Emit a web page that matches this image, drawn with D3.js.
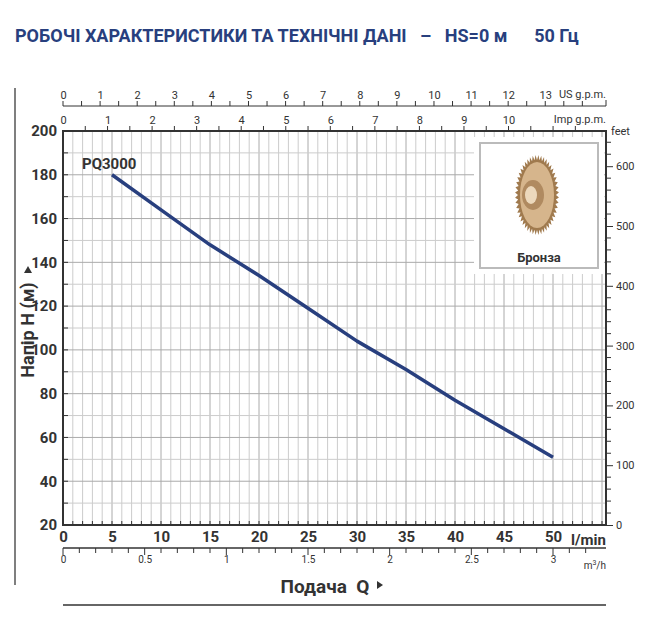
<!DOCTYPE html>
<html><head><meta charset="utf-8">
<script src="https://cdn.jsdelivr.net/npm/d3@7"></script>
<style>body{margin:0;background:#fff}text{font-family:"Liberation Sans Narrow","Roboto",sans-serif;white-space:pre}</style>
</head><body><svg id="c" width="646" height="631"></svg>
<script>
const flowLmin=[5,10,15,20,25,30,35,40,45,50];
const headM=[180,164,148,134,119,104,91,77,64,51];
const lminTicks=[0,5,10,15,20,25,30,35,40,45,50];
const headTicks=[20,40,60,80,100,120,140,160,180,200];
const feetTicks=[0,100,200,300,400,500,600];
const usTicks=[0,1,2,3,4,5,6,7,8,9,10,11,12,13];
const impTicks=[0,1,2,3,4,5,6,7,8,9,10];
const m3hTicks=[0,0.5,1,1.5,2,2.5,3];

const svg=d3.select("#c");
const L=63,R=606,T=131,B=525;
const x=d3.scaleLinear().domain([0,50]).range([L,553]);
const xMax=x.invert(R);
const y=d3.scaleLinear().domain([20,200]).range([B,T]);
const yf=d3.scaleLinear().domain([0,100]).range([B,B-59.8]);
const blue="#283f7e",dark="#333";

svg.append("text").attr("x",15).attr("y",42).attr("fill",blue).attr("font-weight","bold").attr("font-size",18)
 .attr("xml:space","preserve").text("РОБОЧІ ХАРАКТЕРИСТИКИ ТА ТЕХНІЧНІ ДАНІ   –   HS=0 м      50 Гц");

const g=svg.append("g");
g.selectAll(".v").data(d3.range(1,Math.floor(xMax)+1)).join("line").attr("x1",d=>x(d)).attr("x2",d=>x(d)).attr("y1",T).attr("y2",B)
 .attr("stroke",d=>d%5==0?"#aaa":"#ccc").attr("stroke-width",1);
g.selectAll(".h").data(d3.range(30,200,10)).join("line").attr("x1",L).attr("x2",R).attr("y1",d=>y(d)).attr("y2",d=>y(d))
 .attr("stroke",d=>d%20==0?"#aaa":"#ccc");

const bx=480,by=143,bw=118,bh=125;
svg.append("rect").attr("x",bx-6).attr("y",by-6).attr("width",bw+12).attr("height",bh+12).attr("fill","#fff");
svg.append("rect").attr("x",bx).attr("y",by).attr("width",bw).attr("height",bh).attr("fill","#fff").attr("stroke","#bbb").attr("stroke-width",2);
const cx=bx+bw/2-2,cy=by+52;
const teeth=[];for(let i=0;i<48;i++){const a=i/48*2*Math.PI;teeth.push([cx+Math.cos(a)*19,cy+Math.sin(a)*35],[cx+Math.cos(a+0.065)*22,cy+Math.sin(a+0.065)*40]);}
svg.append("path").attr("d",d3.line()(teeth)+"Z").attr("fill","#a07a4e");
svg.append("ellipse").attr("cx",cx).attr("cy",cy).attr("rx",17).attr("ry",33).attr("fill","#d6b58c");
svg.append("ellipse").attr("cx",cx-4).attr("cy",cy).attr("rx",11).attr("ry",15).attr("fill","#b08a60");
svg.append("ellipse").attr("cx",cx-6).attr("cy",cy).attr("rx",6).attr("ry",9).attr("fill","#ecd8bc");
svg.append("text").attr("x",bx+bw/2).attr("y",by+bh-6).attr("text-anchor","middle").attr("font-weight","bold").attr("font-size",13).attr("fill",dark).text("Бронза");

svg.append("rect").attr("x",L).attr("y",T).attr("width",R-L).attr("height",B-T).attr("fill","none").attr("stroke",dark).attr("stroke-width",2);

svg.append("path").datum(flowLmin.map((d,i)=>[d,headM[i]])).attr("d",d3.line().x(d=>x(d[0])).y(d=>y(d[1])))
 .attr("fill","none").attr("stroke",blue).attr("stroke-width",3.5).attr("stroke-linejoin","round");
svg.append("text").attr("x",x(5)-30).attr("y",y(180)-6).attr("font-weight","bold").attr("font-size",15).attr("fill",dark).text("PQ3000");

const ya=svg.append("g").attr("transform",`translate(${L},0)`).call(d3.axisLeft(y).tickValues(headTicks).tickSize(0).tickPadding(6));
ya.select(".domain").remove();
ya.selectAll("text").attr("font-size",15).attr("font-weight","bold").attr("fill",dark);
svg.selectAll(".lt").data(d3.range(30,200,10)).join("line").attr("x1",L).attr("x2",L+5).attr("y1",d=>y(d)).attr("y2",d=>y(d)).attr("stroke",dark);

const fa=svg.append("g").attr("transform",`translate(${R},0)`).call(d3.axisRight(yf).tickValues(feetTicks).tickSize(7).tickPadding(3));
fa.select(".domain").remove();
fa.selectAll("text").attr("font-size",11).attr("fill",dark);
fa.selectAll("line").attr("stroke",dark);
svg.selectAll(".ft").data(d3.range(20,660,20).filter(d=>d%100)).join("line").attr("x1",R).attr("x2",R+5).attr("y1",d=>yf(d)).attr("y2",d=>yf(d)).attr("stroke",dark);
svg.append("text").attr("x",R+5).attr("y",T+4).attr("font-size",11).attr("fill",dark).text("feet");

const xa=svg.append("g").attr("transform",`translate(0,${B})`).call(d3.axisBottom(x).tickValues(lminTicks).tickSize(0).tickPadding(6));
xa.select(".domain").remove();
xa.selectAll("text").attr("font-size",15).attr("font-weight","bold").attr("fill",dark);
svg.append("text").attr("x",R).attr("y",B+20).attr("text-anchor","end").attr("font-size",15).attr("font-weight","bold").attr("fill",dark).text("l/min");
svg.selectAll(".bt").data(d3.range(1,Math.floor(xMax)+1)).join("line").attr("x1",d=>x(d)).attr("x2",d=>x(d)).attr("y1",B).attr("y2",B-4).attr("stroke",dark);

const xm=d3.scaleLinear().domain([0,xMax/16.6667]).range([L,R]);
const ma=svg.append("g").attr("transform",`translate(0,548)`).call(d3.axisBottom(xm).tickValues(m3hTicks).tickFormat(d3.format("")).tickSize(0).tickPadding(8));
ma.select(".domain").remove();
ma.selectAll("text").attr("font-size",10).attr("fill",dark);
svg.append("line").attr("x1",L).attr("x2",R).attr("y1",548).attr("y2",548).attr("stroke",dark).attr("stroke-width",1.5);
svg.selectAll(".mt").data(d3.range(0,3.3,0.1)).join("line").attr("x1",d=>xm(d)).attr("x2",d=>xm(d)).attr("y1",548).attr("y2",d=>Math.round(d*10)%5==0?555:553).attr("stroke",dark);
svg.append("text").attr("x",R).attr("y",569).attr("text-anchor","end").attr("font-size",10).attr("fill",dark).html("m<tspan dy='-4' font-size='7'>3</tspan><tspan dy='4'>/h</tspan>");

const xu=d3.scaleLinear().domain([0,xMax/3.7854]).range([L,R]);
const ua=svg.append("g").attr("transform",`translate(0,106)`).call(d3.axisTop(xu).tickValues(usTicks).tickSize(0).tickPadding(7));
ua.select(".domain").remove();ua.selectAll("text").attr("font-size",11).attr("fill",dark);
svg.append("line").attr("x1",L).attr("x2",R).attr("y1",106).attr("y2",106).attr("stroke",dark);
svg.selectAll(".ut").data(d3.range(0,14.5,0.5)).join("line").attr("x1",d=>xu(d)).attr("x2",d=>xu(d)).attr("y1",106).attr("y2",101).attr("stroke",dark);
svg.append("line").attr("x1",R).attr("x2",R).attr("y1",106).attr("y2",100).attr("stroke",dark);
svg.append("text").attr("x",R).attr("y",98).attr("text-anchor","end").attr("font-size",11).attr("fill",dark).text("US g.p.m.");

const xi=d3.scaleLinear().domain([0,xMax/4.54609]).range([L,R]);
const ia=svg.append("g").attr("transform",`translate(0,${T})`).call(d3.axisTop(xi).tickValues(impTicks).tickSize(0).tickPadding(7));
ia.select(".domain").remove();ia.selectAll("text").attr("font-size",11).attr("fill",dark);
svg.selectAll(".it").data(d3.range(0.5,12,0.5)).join("line").attr("x1",d=>xi(d)).attr("x2",d=>xi(d)).attr("y1",T).attr("y2",T-5).attr("stroke",dark);
svg.append("text").attr("x",R).attr("y",T-8).attr("text-anchor","end").attr("font-size",11).attr("fill",dark).text("Imp g.p.m.");

svg.append("text").attr("transform","translate(34,330) rotate(-90)").attr("text-anchor","middle").attr("font-size",18).attr("font-weight","bold").attr("fill",dark).text("Напір H (м)");
svg.append("path").attr("d","M24,273 L32,273 L28,266 Z").attr("fill",dark);
svg.append("text").attr("x",325).attr("y",593).attr("text-anchor","middle").attr("font-size",19).attr("font-weight","bold").attr("fill",dark).text("Подача  Q");
svg.append("path").attr("d","M377,581 L377,589 L383,585 Z").attr("fill",dark);
svg.append("line").attr("x1",L).attr("x2",R).attr("y1",605).attr("y2",605).attr("stroke",dark).attr("stroke-width",1.5);
svg.append("line").attr("x1",15).attr("x2",15).attr("y1",88).attr("y2",585).attr("stroke","#555").attr("stroke-width",1.5);
</script></body></html>
